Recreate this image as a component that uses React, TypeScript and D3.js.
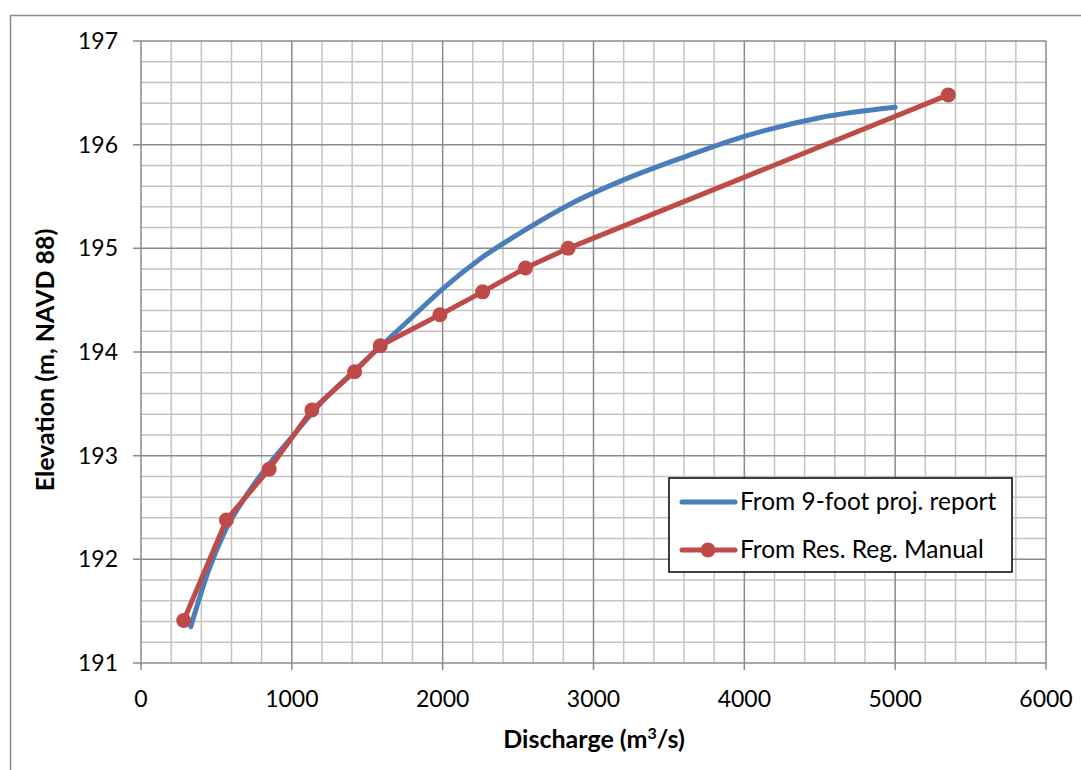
import React from "react";
import * as d3 from "d3";

const blueQ = [330, 450, 550, 700, 850, 1000, 1200, 1400, 1600, 1800, 2000, 2250, 2550, 2850, 3200, 3600, 4000, 4500, 5000];
const blueZ = [191.35, 191.9, 192.25, 192.62, 192.92, 193.18, 193.52, 193.8, 194.07, 194.34, 194.61, 194.9, 195.18, 195.43, 195.66, 195.88, 196.08, 196.26, 196.36];

const redQ = [283, 566, 850, 1133, 1416, 1586, 1982, 2265, 2549, 2832, 5352];
const redZ = [191.41, 192.38, 192.87, 193.44, 193.81, 194.06, 194.36, 194.58, 194.81, 195.0, 196.48];

const xTicks = [0, 1000, 2000, 3000, 4000, 5000, 6000];
const yTicks = [191, 192, 193, 194, 195, 196, 197];

const seriesNames = ["From 9-foot proj. report", "From Res. Reg. Manual"];

const W = 1081, H = 770;
const left = 141, right = 1046, top = 41, bottom = 663;
const BLUE = "#4A7EBB";
const RED = "#BE4B48";
const FONT = "Lato, 'Open Sans', sans-serif";

export default function App() {
  const x = d3.scaleLinear().domain([0, 6000]).range([left, right]);
  const y = d3.scaleLinear().domain([191, 197]).range([bottom, top]);

  const minorX = d3.range(0, 6001, 200).filter((v) => v % 1000 !== 0);
  const minorY = d3.range(0, 31).map((i) => 191 + i * 0.2).filter((_, i) => i % 5 !== 0);

  const blueLine = d3
    .line<number>()
    .x((_, i) => x(blueQ[i]))
    .y((d) => y(d))
    .curve(d3.curveMonotoneX)(blueZ) as string;
  const redLine = d3
    .line<number>()
    .x((_, i) => x(redQ[i]))
    .y((d) => y(d))(redZ) as string;

  return (
    <svg width={W} height={H} style={{ position: "absolute", left: 0, top: 0, background: "#fff" }}>
      <rect x={10.5} y={15.5} width={1080} height={770} fill="#fff" stroke="#8c8c8c" strokeWidth={1.5} />
      {minorX.map((v) => (
        <line key={"mx" + v} x1={x(v)} x2={x(v)} y1={top} y2={bottom} stroke="#c3c3c3" strokeWidth={1.5} />
      ))}
      {minorY.map((v, i) => (
        <line key={"my" + i} x1={left} x2={right} y1={y(v)} y2={y(v)} stroke="#c3c3c3" strokeWidth={1.5} />
      ))}
      {xTicks.map((v) => (
        <line key={"Mx" + v} x1={x(v)} x2={x(v)} y1={top} y2={bottom + 7} stroke="#8a8a8a" strokeWidth={1.5} />
      ))}
      {yTicks.map((v) => (
        <line key={"My" + v} x1={left - 8} x2={right} y1={y(v)} y2={y(v)} stroke="#8a8a8a" strokeWidth={1.5} />
      ))}
      {xTicks.map((v) => (
        <text key={"tx" + v} x={x(v)} y={bottom + 44} textAnchor="middle" fontFamily={FONT} fontSize={23} fill="#000">
          {v}
        </text>
      ))}
      {yTicks.map((v) => (
        <text key={"ty" + v} x={118} y={y(v) + 8} textAnchor="end" fontFamily={FONT} fontSize={23} fill="#000">
          {v}
        </text>
      ))}
      <text x={594} y={748} textAnchor="middle" fontFamily={FONT} fontSize={25} fontWeight="bold">
        Discharge (m<tspan baselineShift="super" fontSize={16}>3</tspan>/s)
      </text>
      <text
        transform={`translate(54, 360) rotate(-90)`}
        textAnchor="middle"
        fontFamily={FONT}
        fontSize={25}
        fontWeight="bold"
      >
        Elevation (m, NAVD 88)
      </text>
      <path d={blueLine} fill="none" stroke={BLUE} strokeWidth={5} strokeLinecap="round" strokeLinejoin="round" />
      <path d={redLine} fill="none" stroke={RED} strokeWidth={5} strokeLinecap="round" strokeLinejoin="round" />
      {redQ.map((q, i) => (
        <circle key={"pt" + i} cx={x(q)} cy={y(redZ[i])} r={7.5} fill={RED} />
      ))}
      <g>
        <rect x={669} y={478} width={343} height={94} fill="#fff" stroke="#000" strokeWidth={1.5} />
        <line x1={682} x2={735} y1={502} y2={502} stroke={BLUE} strokeWidth={5} strokeLinecap="round" />
        <text x={740} y={510} fontFamily={FONT} fontSize={24.5}>{seriesNames[0]}</text>
        <line x1={682} x2={735} y1={550} y2={550} stroke={RED} strokeWidth={5} strokeLinecap="round" />
        <circle cx={708} cy={550} r={7.5} fill={RED} />
        <text x={740} y={558} fontFamily={FONT} fontSize={24.5}>{seriesNames[1]}</text>
      </g>
    </svg>
  );
}
